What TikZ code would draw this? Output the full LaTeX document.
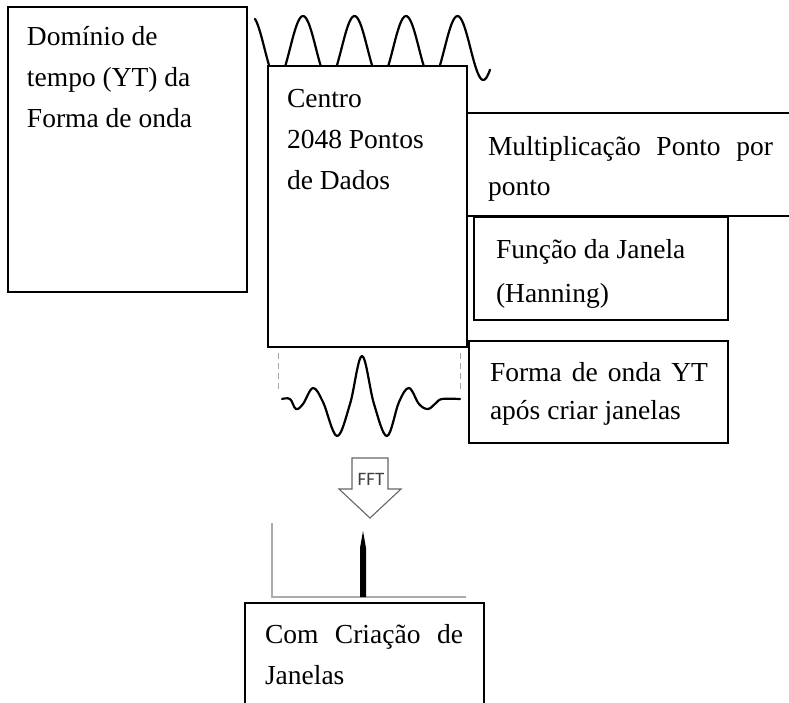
\documentclass[tikz,border=0pt]{standalone}
\usepackage{fontspec}
\setmainfont{Liberation Serif}
\newfontfamily\fftfont{Carlito}
\begin{document}
\begin{tikzpicture}[x=1pt,y=-1pt,
  box/.style={draw=black,line width=1.8pt,fill=white,inner sep=0pt,outer sep=0pt,anchor=north west},
  txt/.style={anchor=base west,inner sep=0pt,outer sep=0pt},
  wave/.style={line width=2.2pt,line cap=round,line join=round},
  guide/.style={draw=gray!70,line width=1pt,dash pattern=on 6pt off 4pt},
  axis/.style={draw=gray!65,line width=1.1pt}]
\useasboundingbox (0,0) rectangle (789,702);
\fill[white] (0,0) rectangle (789,702);

% left box
\node[box,minimum width=239pt,minimum height=285pt] (dom) at (8,7) {};
\node[txt] (domt) at (27,45) {\fontsize{27.5}{41}\selectfont\parbox[t]{230pt}{Domínio de\\tempo (YT) da\\Forma de onda}};

% top sine wave
\draw[wave] plot[domain=255:490,samples=160,smooth] (\x,{48-32*cos(6.9903*(\x-303))});

% multiplication box (open to the right)
\node[box,minimum width=345pt,minimum height=103pt] (mul) at (467,113) {};
\node[txt] (mult) at (488,155) {\fontsize{27.5}{40}\selectfont\parbox[t]{300pt}{\makebox[285pt][s]{Multiplicação Ponto por}\\ponto}};

% centre box
\node[box,minimum width=199pt,minimum height=281pt] (cen) at (268,66) {};
\node[txt] (cent) at (287,107) {\fontsize{27.5}{41}\selectfont\parbox[t]{170pt}{Centro\\2048 Pontos\\de Dados}};

% window function box
\node[box,minimum width=254pt,minimum height=103pt] (fun) at (474,217) {};
\node[txt] (funt) at (496,258) {\fontsize{27.5}{44}\selectfont\parbox[t]{230pt}{Função da Janela\\(Hanning)}};

% windowed waveform box
\node[box,minimum width=259pt,minimum height=102pt] (yt) at (469,341) {};
\node[txt] (ytt) at (490,381) {\fontsize{27.5}{38}\selectfont\parbox[t]{230pt}{\makebox[218pt][s]{Forma de onda YT}\\após criar janelas}};

% dashed guides
\draw[guide] (278,353) -- (278,392);
\draw[guide] (460,353) -- (460,392);

% windowed waveform
\draw[wave] plot[smooth,tension=0.6] coordinates {(282,399) (290,399) (296,409) (303,404) (313,388) (323,402) (337,436) (350,404) (362,356) (374,404) (387,436) (399,402) (409,388) (419,404) (428,409) (436,403) (442,399) (460,399)};

% FFT arrow
\draw[draw=gray!80!black,line width=1.1pt,fill=white,line join=miter] (352,458) -- (388,458) -- (388,489) -- (401,489) -- (370,518) -- (339,489) -- (352,489) -- cycle;
\node[inner sep=0pt,text=black!75,font=\fftfont\fontsize{19}{19}\selectfont] (fft) at (371,479) {FFT};

% spectrum
\draw[axis] (272,523) -- (272,597) -- (466,597);
\fill[black] (360,597) -- (360,548) -- (363,531) -- (366,548) -- (366,597) -- cycle;

% result box
\node[box,minimum width=239pt,minimum height=130pt] (com) at (245,603) {};
\node[txt] (comt) at (265,643) {\fontsize{27.5}{41}\selectfont\parbox[t]{220pt}{\makebox[198pt][s]{Com Criação de}\\Janelas}};
\end{tikzpicture}
\end{document}
